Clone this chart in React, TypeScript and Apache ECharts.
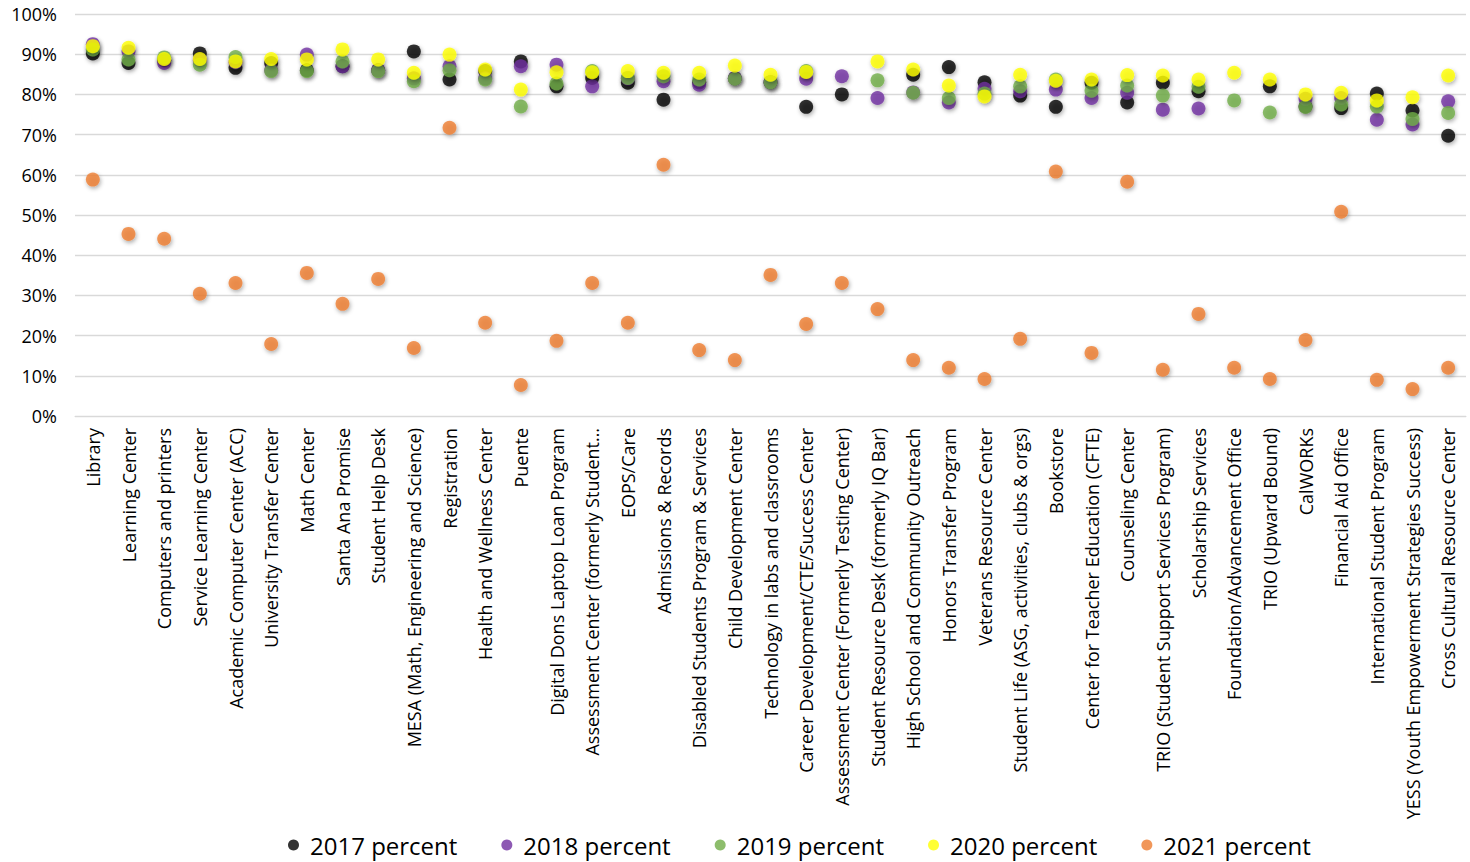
import React, { useEffect, useRef } from "react";
import * as echarts from "echarts";

const categories = [
  "Library",
  "Learning Center",
  "Computers and printers",
  "Service Learning Center",
  "Academic Computer Center (ACC)",
  "University Transfer Center",
  "Math Center",
  "Santa Ana Promise",
  "Student Help Desk",
  "MESA (Math, Engineering and Science)",
  "Registration",
  "Health and Wellness Center",
  "Puente",
  "Digital Dons Laptop Loan Program",
  "Assessment Center (formerly Student…",
  "EOPS/Care",
  "Admissions & Records",
  "Disabled Students Program & Services",
  "Child Development Center",
  "Technology in labs and classrooms",
  "Career Development/CTE/Success Center",
  "Assessment Center (Formerly Testing Center)",
  "Student Resource Desk (formerly IQ Bar)",
  "High School and Community Outreach",
  "Honors Transfer Program",
  "Veterans Resource Center",
  "Student Life (ASG, activities, clubs & orgs)",
  "Bookstore",
  "Center for Teacher Education (CFTE)",
  "Counseling Center",
  "TRIO (Student Support Services Program)",
  "Scholarship Services",
  "Foundation/Advancement Office",
  "TRIO (Upward Bound)",
  "CalWORKs",
  "Financial Aid Office",
  "International Student Program",
  "YESS (Youth Empowerment Strategies Success)",
  "Cross Cultural Resource Center",
];

const yTicks = [0, 10, 20, 30, 40, 50, 60, 70, 80, 90, 100];

const p2017 = [
  90.2, 87.8, 88.5, 90.2, 86.6, 87.8, 86.0, 87.0, 86.0, 90.7,
  83.7, 85.8, 88.2, 82.0, 84.1, 82.9, 78.7, 83.0, 84.0, 83.0,
  76.9, 80.0, null, 84.9, 86.8, 83.0, 79.7, 76.9, 82.9, 78.0,
  82.9, 80.8, null, 82.0, 77.0, 76.6, 80.2, 76.0, 69.7,
];
const p2018 = [
  92.5, 90.7, 87.8, 88.5, 88.0, 86.0, 89.9, 87.0, 86.0, 84.0,
  87.0, 84.0, 87.0, 87.4, 82.0, 84.0, 83.3, 82.4, 84.0, 83.0,
  83.9, 84.5, 79.1, 80.5, 78.0, 81.4, 80.8, 81.2, 79.1, 80.4,
  76.2, 76.5, null, null, 78.9, 79.1, 73.7, 72.5, 78.3,
];
const p2019 = [
  91.2, 88.7, 89.2, 87.4, 89.3, 85.8, 85.8, 88.2, 85.8, 83.3,
  86.0, 83.7, 77.0, 82.7, 85.8, 84.1, 84.5, 83.7, 83.9, 83.0,
  85.8, null, 83.5, 80.4, 79.1, 80.2, 82.0, 83.7, 80.9, 82.2,
  79.7, 81.9, 78.5, 75.5, 76.9, 77.5, 77.0, 73.9, 75.4,
];
const p2020 = [
  92.0, 91.6, 88.8, 88.8, 88.2, 88.8, 88.7, 91.2, 88.7, 85.4,
  89.9, 86.2, 81.2, 85.5, 85.5, 85.8, 85.4, 85.4, 87.2, 84.9,
  85.6, null, 88.2, 86.2, 82.2, 79.5, 84.9, 83.4, 83.7, 84.8,
  84.7, 83.7, 85.4, 83.7, 80.0, 80.4, 78.5, 79.3, 84.7,
];
const p2021 = [
  58.8, 45.3, 44.1, 30.4, 33.1, 17.9, 35.6, 27.9, 34.1, 16.9,
  71.7, 23.2, 7.7, 18.7, 33.1, 23.2, 62.5, 16.4, 13.9, 35.1,
  22.9, 33.1, 26.6, 13.9, 12.0, 9.2, 19.2, 60.8, 15.7, 58.3,
  11.5, 25.4, 12.0, 9.2, 18.9, 50.8, 9.0, 6.7, 12.0,
];

const seriesNames = ["2017 percent", "2018 percent", "2019 percent", "2020 percent", "2021 percent"];
const seriesColors = ["#000000", "#7030A0", "#70AD47", "#FFFF00", "#ED7D31"];
const seriesData = [p2017, p2018, p2019, p2020, p2021];

const FONT = "'Open Sans', 'Liberation Sans', sans-serif";

export default function App() {
  const ref = useRef<HTMLDivElement>(null);
  useEffect(() => {
    if (!ref.current) return;
    const chart = echarts.init(ref.current, undefined, { renderer: "svg" });
    chart.setOption({
      animation: false,
      backgroundColor: "#ffffff",
      grid: { left: 75, right: 4, top: 14, bottom: 446, containLabel: false },
      legend: {
        bottom: 0,
        left: 283,
        icon: "circle",
        itemWidth: 11,
        itemHeight: 11,
        itemGap: 44,
        textStyle: {
          fontSize: 24,
          fontFamily: FONT,
          color: "#000000",
          padding: [0, 0, 0, 6],
        },
        data: seriesNames,
      },
      xAxis: {
        type: "category",
        data: categories,
        boundaryGap: true,
        axisLine: { show: true, lineStyle: { color: "#d9d9d9" } },
        axisTick: { show: false },
        axisLabel: {
          interval: 0,
          rotate: 90,
          fontSize: 18,
          fontFamily: FONT,
          color: "#000000",
          margin: 12,
        },
      },
      yAxis: {
        type: "value",
        min: yTicks[0],
        max: yTicks[yTicks.length - 1],
        interval: 10,
        axisLine: { show: false },
        axisTick: { show: false },
        splitLine: { lineStyle: { color: "#d9d9d9", width: 1.3 } },
        axisLabel: {
          formatter: "{value}%",
          fontSize: 18,
          fontFamily: FONT,
          color: "#000000",
          margin: 18,
        },
      },
      series: seriesNames.map((name, i) => ({
        name,
        type: "scatter",
        data: seriesData[i],
        symbol: "circle",
        symbolSize: 14,
        itemStyle: {
          color: seriesColors[i],
          shadowBlur: 4,
          shadowOffsetX: 1,
          shadowOffsetY: 2,
          shadowColor: "rgba(0,0,0,0.4)",
        },
      })),
    });
    return () => chart.dispose();
  }, []);
  return (
    <div
      ref={ref}
      style={{ position: "fixed", left: 0, top: 0, width: 1470, height: 862 }}
    />
  );
}
